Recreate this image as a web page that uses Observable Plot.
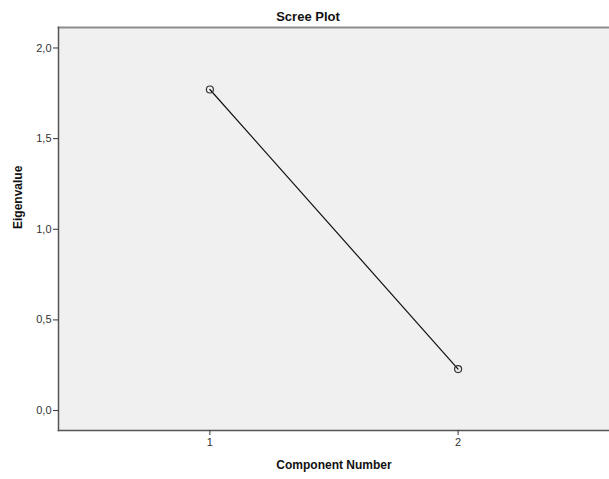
<!DOCTYPE html>
<html><head><meta charset="utf-8">
<script src="https://cdn.jsdelivr.net/npm/d3@7"></script>
<script src="https://cdn.jsdelivr.net/npm/@observablehq/plot@0.6"></script>
<style>html,body{margin:0;padding:0;background:#fff;overflow:hidden} svg{display:block}</style>
</head><body><div id="chart"></div>
<script>
const components = [1, 2];
const eigenvalues = [1.771, 0.229];
const xTicks = [1, 2];
const yTicks = [0, 0.5, 1, 1.5, 2];
const titleText = "Scree Plot";
const xLabel = "Component Number";
const yLabel = "Eigenvalue";

const data = components.map((c, i) => ({component: c, eigenvalue: eigenvalues[i]}));

const chart = Plot.plot({
  width: 609, height: 479,
  marginLeft: 58, marginTop: 27, marginBottom: 49, marginRight: 0,
  style: {fontFamily: "'Liberation Sans', Arial, sans-serif", fontSize: "11px", color: "#333", background: "#fff"},
  x: {domain: [0.39, 2.61]},
  y: {domain: [-0.11, 2.113]},
  marks: [
    Plot.frame({fill: "#f0f0f0", stroke: null}),
    Plot.frame({anchor: "top", stroke: "#8c8c8c", strokeWidth: 2}),
    Plot.frame({anchor: "left", stroke: "#555", strokeWidth: 1.5}),
    Plot.frame({anchor: "bottom", stroke: "#555", strokeWidth: 1.5}),
    Plot.axisX({ticks: xTicks, tickSize: 5, tickPadding: 3, tickFormat: d => String(d), label: null, stroke: "#333", fill: "#333"}),
    Plot.axisY({ticks: yTicks, tickSize: 5, tickPadding: 2, tickFormat: d => d.toFixed(1).replace(".", ","), label: null, stroke: "#333", fill: "#333"}),
    Plot.line(data, {x: "component", y: "eigenvalue", stroke: "#111", strokeWidth: 1.2}),
    Plot.dot(data, {x: "component", y: "eigenvalue", r: 3.5, stroke: "#333", strokeWidth: 1.2, fill: "none"}),
    Plot.text([titleText], {text: d => d, frameAnchor: "top", dx: -26, dy: -16, fontWeight: "bold", fontSize: 13, fill: "#111"}),
    Plot.text([xLabel], {text: d => d, frameAnchor: "bottom", dy: 38, fontWeight: "bold", fontSize: 12, fill: "#111"}),
    Plot.text([yLabel], {text: d => d, frameAnchor: "left", dx: -40, rotate: -90, fontWeight: "bold", fontSize: 12, fill: "#111"})
  ]
});
document.getElementById("chart").appendChild(chart);
</script>
</body></html>
